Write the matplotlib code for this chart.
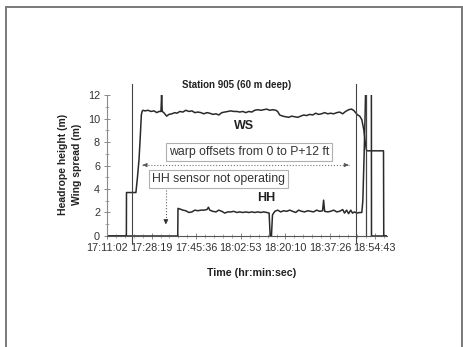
import matplotlib
matplotlib.use('Agg')
import matplotlib.pyplot as plt
from matplotlib.lines import Line2D
from matplotlib.ticker import FixedLocator, MultipleLocator, AutoMinorLocator

plt.rcParams['font.family'] = ['Liberation Sans', 'DejaVu Sans']

# Time axis labels (hr:min:sec)
TICK_LABELS = ['17:11:02', '17:28:19', '17:45:36', '18:02:53',
               '18:20:10', '18:37:26', '18:54:43']

# Wing spread (m), time in minutes after 17:11:02
ws_min = [0, 7.5, 7.55, 11.2, 11.8, 12.4, 12.9, 13.3, 13.6, 13.9, 14.7, 15.9,
          17.0, 18.2, 19.3, 20.1, 20.9, 21.15, 21.4, 22.0, 23.1, 24.0, 25.1,
          26.3, 27.1, 28.2, 29.4, 30.5, 31.7, 32.9, 34.0, 35.2, 36.4, 37.5,
          38.7, 39.8, 41.0, 42.2, 43.3, 44.5, 45.6, 46.8, 48.0, 49.1, 50.3,
          51.4, 52.6, 53.8, 54.9, 56.1, 57.2, 58.4, 59.6, 60.7, 61.9, 63.0,
          64.2, 65.4, 66.1, 66.9, 68.1, 69.2, 70.4, 71.5, 72.7, 73.9, 75.0,
          76.2, 77.3, 78.5, 79.7, 80.8, 82.0, 83.1, 84.3, 85.5, 86.6, 87.8,
          89.0, 90.1, 91.3, 92.4, 93.6, 94.7, 95.5, 96.3, 97.1, 97.9, 98.7,
          99.5, 100.0, 100.5, 100.9, 107.1, 107.2, 108.3]
ws_val = [0, 0, 3.7, 3.7, 5.0, 6.5, 8.5, 10.3, 10.6, 10.7, 10.65, 10.7,
          10.6, 10.65, 10.5, 10.6, 10.6, 12.0, 10.6, 10.5, 10.2, 10.35, 10.4,
          10.5, 10.45, 10.6, 10.55, 10.7, 10.6, 10.65, 10.5, 10.55, 10.5, 10.4,
          10.5, 10.45, 10.35, 10.4, 10.3, 10.5, 10.55, 10.6, 10.65, 10.6, 10.6,
          10.55, 10.6, 10.5, 10.6, 10.55, 10.7, 10.75, 10.7, 10.75, 10.8, 10.7,
          10.75, 10.7, 10.6, 10.3, 10.2, 10.15, 10.1, 10.2, 10.15, 10.1, 10.2,
          10.3, 10.25, 10.35, 10.3, 10.45, 10.35, 10.4, 10.5, 10.4, 10.45, 10.4,
          10.5, 10.55, 10.4, 10.6, 10.75, 10.8, 10.7, 10.5, 10.3, 10.2, 9.9,
          9.0, 8.0, 7.3, 7.25, 7.25, 0, 0]

# Headrope height (m)
hh_min = [0, 27.4, 27.5, 28.2, 29.4, 30.5, 31.7, 32.9, 34.0, 35.2, 36.4,
          37.5, 38.7, 39.3, 39.8, 41.0, 42.2, 43.3, 44.5, 45.6, 46.8, 48.0,
          49.1, 50.3, 51.4, 52.6, 53.8, 54.9, 56.1, 57.2, 58.4, 59.6, 60.7,
          61.9, 62.8, 63.2, 63.7, 64.1, 65.0, 66.1, 67.3, 68.4, 69.6, 70.8,
          71.9, 73.1, 74.2, 75.4, 76.6, 77.7, 78.9, 80.0, 81.2, 82.4, 83.5,
          83.9, 84.3, 85.5, 86.6, 87.8, 89.0, 90.1, 91.3, 92.0, 92.8, 93.6,
          94.4, 95.1, 95.9, 96.7, 97.9, 98.7, 99.1, 99.6, 100.0, 100.3, 102.4,
          102.45, 108.3]
hh_val = [0, 0, 2.35, 2.3, 2.2, 2.15, 2.0, 2.05, 2.2, 2.15, 2.2,
          2.2, 2.25, 2.45, 2.2, 2.1, 2.05, 2.2, 2.1, 1.95, 2.05, 2.05,
          2.1, 2.0, 2.05, 2.0, 2.05, 2.0, 2.05, 2.0, 2.05, 2.0, 2.05,
          2.0, 1.95, 0.0, 0.0, 1.8, 2.1, 2.2, 2.05, 2.15, 2.1, 2.2,
          2.1, 2.0, 2.2, 2.1, 2.05, 2.15, 2.1, 2.05, 2.2, 2.1, 2.15,
          3.05, 2.1, 2.05, 2.1, 2.2, 2.05, 2.1, 2.25, 1.95, 2.2, 1.9,
          2.2, 1.95, 2.05, 1.95, 2.0, 2.0, 3.0, 7.0, 10.5, 14.0, 14.0,
          0, 0]

# event markers (minutes)
MARK_WARP = [9.55, 96.6]
MARK_HH = [100.4]


def to_minutes(s):
    h, m, sec = map(int, s.split(':'))
    return h * 60 + m + sec / 60.0


t0 = to_minutes(TICK_LABELS[0])
tick_pos = [to_minutes(s) - t0 for s in TICK_LABELS]

fig = plt.figure(figsize=(4.63, 3.47), dpi=100)
ax = fig.add_axes([0.2311, 0.3199, 0.605, 0.4063])

line_col = '#2a2a2a'
ax.plot(ws_min, ws_val, color=line_col, lw=1.1)
ax.plot(hh_min, hh_val, color=line_col, lw=1.1)

for t in MARK_WARP:
    ax.plot([t, t], [-0.6, 12.9], color='#444444', lw=0.8, clip_on=False)
for t in MARK_HH:
    ax.plot([t, t], [0, 12], color='#444444', lw=0.9)

ax.set_xlim(0, 108.5)
ax.set_ylim(0, 12)

for s in ['top', 'right']:
    ax.spines[s].set_visible(False)
ax.spines['left'].set_color('#8a8a8a')
ax.spines['bottom'].set_color('#555555')
ax.spines['left'].set_linewidth(0.8)
ax.spines['bottom'].set_linewidth(0.8)

ax.xaxis.set_major_locator(FixedLocator(tick_pos))
ax.set_xticklabels(TICK_LABELS)
ax.xaxis.set_minor_locator(AutoMinorLocator(5))
ax.yaxis.set_major_locator(MultipleLocator(2))
ax.yaxis.set_minor_locator(MultipleLocator(1))
ax.tick_params(which='major', direction='inout', length=4, width=0.7,
               color='#8a8a8a', labelsize=7.8, labelcolor='#333333', pad=3)
ax.tick_params(which='minor', direction='inout', length=2.5, width=0.6,
               color='#a0a0a0')

# annotations
box = dict(boxstyle='square,pad=0.25', fc='white', ec='#b0b0b0', lw=0.8)
ax.text(55.1, 7.13, 'warp offsets from 0 to P+12 ft', fontsize=8.8,
        color='#333333', ha='center', va='center', bbox=box)
ax.text(43.1, 4.83, 'HH sensor not operating', fontsize=8.8,
        color='#333333', ha='center', va='center', bbox=box)

ax.plot([13.5, 93.8], [6.04, 6.04], color='#777777', lw=0.8, ls=':')
ax.annotate('', xy=(12.8, 6.04), xytext=(15.5, 6.04),
            arrowprops=dict(arrowstyle='-|>', color='#555555', lw=0.6,
                            mutation_scale=6))
ax.annotate('', xy=(94.6, 6.04), xytext=(92.0, 6.04),
            arrowprops=dict(arrowstyle='-|>', color='#555555', lw=0.6,
                            mutation_scale=6))
ax.plot([22.8, 22.8], [4.17, 1.3], color='#666666', lw=0.8, ls=':')
ax.annotate('', xy=(22.8, 0.75), xytext=(22.8, 1.5),
            arrowprops=dict(arrowstyle='-|>', color='#333333', lw=0.6,
                            mutation_scale=7))

ax.text(53.0, 9.35, 'WS', fontsize=9, fontweight='bold', color='#222222',
        ha='center', va='center')
ax.text(61.5, 3.25, 'HH', fontsize=9, fontweight='bold', color='#222222',
        ha='center', va='center')

fig.text(236.7 / 463, 1 - 85 / 347, 'Station 905 (60 m deep)', fontsize=7,
         fontweight='bold', color='#222222', ha='center', va='center')
fig.text(251.7 / 463, 1 - 272.7 / 347, 'Time (hr:min:sec)', fontsize=7.7,
         fontweight='bold', color='#222222', ha='center', va='center')
fig.text(63.3 / 463, 1 - 164 / 347, 'Headrope height (m)', fontsize=7.5,
         fontweight='bold', color='#222222', ha='center', va='center',
         rotation=90)
fig.text(77.3 / 463, 1 - 164 / 347, 'Wing spread (m)', fontsize=7.5,
         fontweight='bold', color='#222222', ha='center', va='center',
         rotation=90)

# page frame
W, H = 463.0, 347.0
frame = dict(color='#7a7a7a', lw=1.4, transform=fig.transFigure)
fig.add_artist(Line2D([5.5 / W, 5.5 / W], [0, 1 - 7 / H], **frame))
fig.add_artist(Line2D([5.5 / W, 461.5 / W], [1 - 7 / H, 1 - 7 / H], **frame))
fig.add_artist(Line2D([461.5 / W, 461.5 / W], [0, 1 - 7 / H], **frame))

fig.savefig('out.png', dpi=100, facecolor='white')
